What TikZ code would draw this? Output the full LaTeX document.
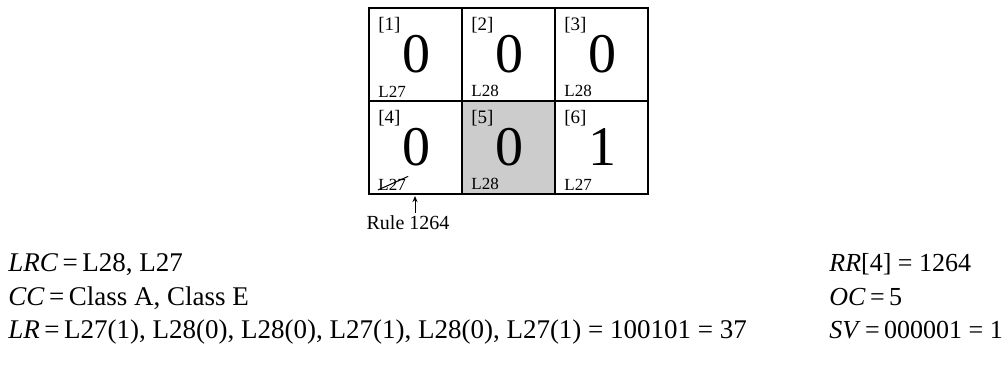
\documentclass[tikz,border=0pt]{standalone}
\usepackage{fontspec}
\setmainfont{Liberation Serif}
\usetikzlibrary{arrows.meta}
\begin{document}
\begin{tikzpicture}[x=0.5pt,y=-0.5pt,
  cellbox/.style={draw=black,line width=1.2pt,minimum width=46.5pt,minimum height=46.5pt,inner sep=0pt,anchor=north west},
  idx/.style={font=\fontsize{9.5}{9.5}\selectfont,anchor=west,inner sep=0pt},
  big/.style={font=\fontsize{28}{28}\selectfont,inner sep=0pt},
  lab/.style={font=\fontsize{8.5}{8.5}\selectfont,anchor=west,inner sep=0pt},
  eq/.style={font=\fontsize{13}{13}\selectfont,anchor=base west,inner sep=0pt},
  eqwide/.style={eq,font=\fontsize{13.5}{13.5}\selectfont}]
\useasboundingbox (0,0) rectangle (1008,371);
% cells
\node[cellbox] (c1) at (368,7) {};
\node[cellbox] (c2) at (461,7) {};
\node[cellbox] (c3) at (554,7) {};
\node[cellbox] (c4) at (368,100) {};
\node[cellbox,fill=black!20] (c5) at (461,100) {};
\node[cellbox] (c6) at (554,100) {};
% contents
\foreach \n/\i/\v/\l in {c1/1/0/L27,c2/2/0/L28,c3/3/0/L28,c4/4/0/L27,c5/5/0/L28,c6/6/1/L27}{
  \node[idx] (\n i) at ([xshift=5pt,yshift=-9pt]\n.north west) {[\i]};
  \node[big] (\n v) at ([xshift=0.5pt,yshift=-23.5pt]\n.north) {\v};
  \node[lab] (\n l) at ([xshift=5pt,yshift=5.5pt]\n.south west) {\l};
}
\draw[line width=0.5pt] (c4l.south west) ++(0,-0.5) -- ([xshift=1pt,yshift=1pt]c4l.north east);
% rule arrow
\node[font=\fontsize{10}{10}\selectfont,inner sep=0pt] (rule) at (408,223) {Rule 1264};
\coordinate (arrtop) at (415,196);
\draw[-{Stealth[length=3pt,width=2.5pt]},line width=0.5pt] (arrtop |- rule.north) ++(0,-3) coordinate (arrbot) (arrbot) -- (arrtop);
% equations
\node[eqwide] (lrc) at (8,271) {\textit{LRC}\,=\,L28, L27};
\node[eqwide] (cc) at (8,305) {\textit{CC}\,=\,Class A, Class E};
\node[eqwide] (lr) at (8,338) {\textit{LR}\,=\,L27(1), L28(0), L28(0), L27(1), L28(0), L27(1) = 100101 = 37};
\node[eq] (rr) at (829,271) {\textit{RR}[4] = 1264};
\node[eq] (oc) at (829,305) {\textit{OC}\,=\,5};
\node[eq] (sv) at (829,338) {\textit{SV}\,=\,000001 = 1};
\end{tikzpicture}
\end{document}
